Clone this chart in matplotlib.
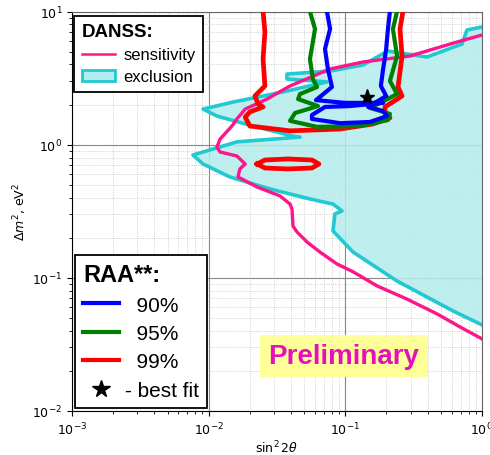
import matplotlib
matplotlib.use("Agg")
import matplotlib.pyplot as plt
from matplotlib.lines import Line2D
from matplotlib.patches import Patch

# DANSS exclusion boundary (sin^2 2theta, dm^2 in eV^2)
excl_x = [1.0, 0.776, 0.714, 0.395, 0.205, 0.135, 0.0773, 0.0374, 0.0374, 0.0734,
          0.0350, 0.0151, 0.00909, 0.0115, 0.0211, 0.0414, 0.0466, 0.0161, 0.00767,
          0.00909, 0.0143, 0.0281, 0.0551, 0.0812, 0.0946, 0.0839, 0.0812, 0.114,
          0.239, 0.614, 1.0]
excl_y = [7.65, 7.26, 5.70, 4.55, 5.05, 3.97, 3.57, 3.39, 3.11, 2.96,
          2.49, 2.09, 1.85, 1.64, 1.38, 1.16, 1.14, 1.05, 0.836,
          0.716, 0.572, 0.465, 0.391, 0.358, 0.318, 0.302, 0.225, 0.156,
          0.0946, 0.0564, 0.0443]

# DANSS sensitivity
sens_x = [1.0, 0.656, 0.297, 0.135, 0.0773, 0.0394, 0.0267, 0.0185, 0.0161, 0.0148,
          0.0121, 0.0115, 0.0121, 0.0161, 0.0185, 0.0169, 0.0164, 0.0226, 0.0333,
          0.0394, 0.0407, 0.0414, 0.0443, 0.0524, 0.0653, 0.0869, 0.114, 0.171,
          0.282, 0.469, 0.690, 1.0]
sens_y = [6.66, 5.90, 4.63, 4.18, 3.70, 2.76, 2.20, 1.85, 1.56, 1.38,
          1.10, 0.960, 0.881, 0.822, 0.716, 0.657, 0.572, 0.481, 0.412,
          0.358, 0.329, 0.245, 0.221, 0.186, 0.156, 0.127, 0.111, 0.0869,
          0.0693, 0.0536, 0.0428, 0.0348]

# RAA allowed regions
raa90_x = [0.0734, 0.0773, 0.0710, 0.0746, 0.0798, 0.0610, 0.0996, 0.189, 0.108, 0.0710,
           0.0570, 0.0570, 0.0914, 0.151, 0.202, 0.189, 0.147, 0.199, 0.182, 0.189,
           0.199, 0.205, 0.212]
raa90_y = [10, 7.39, 5.23, 3.70, 2.71, 2.16, 2.06, 2.06, 1.95, 1.92,
           1.67, 1.56, 1.45, 1.48, 1.64, 1.79, 1.92, 2.32, 2.76, 3.70,
           5.23, 7.39, 10]

raa95_x = [0.0551, 0.0600, 0.0551, 0.0579, 0.0621, 0.0466, 0.0451, 0.0631, 0.0429, 0.0394,
           0.0621, 0.128, 0.205, 0.212, 0.151, 0.180, 0.239, 0.212, 0.239, 0.223, 0.239]
raa95_y = [10, 7.39, 4.40, 3.11, 2.71, 2.40, 2.20, 1.95, 1.73, 1.51,
           1.36, 1.38, 1.53, 1.70, 1.89, 2.06, 2.40, 3.01, 4.63, 7.39, 10]

raa99_x = [0.0250, 0.0258, 0.0250, 0.0258, 0.0218, 0.0230, 0.0250, 0.0200, 0.0185, 0.0200,
           0.0394, 0.0914, 0.159, 0.212, 0.195, 0.195, 0.260, 0.243, 0.260, 0.251, 0.264]
raa99_y = [10, 7.02, 4.40, 2.76, 2.32, 2.02, 1.92, 1.76, 1.61, 1.38,
           1.27, 1.31, 1.43, 1.59, 1.76, 1.92, 2.32, 2.71, 4.63, 7.39, 10]

island_x = [0.0226, 0.0258, 0.0380, 0.0570, 0.0641, 0.0570, 0.0380, 0.0258, 0.0226]
island_y = [0.716, 0.767, 0.781, 0.767, 0.716, 0.668, 0.657, 0.668, 0.716]

best_fit = (0.144, 2.28)

cyan = "#22c9d0"
fill_c = "#b3ecec"
pink = "#ff148c"

fig = plt.figure(figsize=(4.9, 4.56), dpi=100)
ax = fig.add_axes([72 / 490, 44 / 456, 410 / 490, 399.5 / 456])
ax.set_xscale("log")
ax.set_yscale("log")
ax.set_xlim(1e-3, 1)
ax.set_ylim(1e-2, 10)

ax.grid(True, which="major", color="#888888", lw=0.8)
ax.grid(True, which="minor", color="#c0c0c0", lw=0.6, ls=":")
ax.set_axisbelow(True)

ax.fill(excl_x, excl_y, color=fill_c, alpha=0.85, lw=0, zorder=1)
ax.plot(excl_x, excl_y, color=cyan, lw=2.6, zorder=2)
ax.plot(sens_x, sens_y, color=pink, lw=2.4, zorder=3)

ax.plot(raa99_x, raa99_y, color="red", lw=3.4, zorder=4)
ax.plot(island_x, island_y, color="red", lw=3.4, zorder=4)
ax.plot(raa95_x, raa95_y, color="green", lw=3.0, zorder=5)
ax.plot(raa90_x, raa90_y, color="blue", lw=3.0, zorder=6)
ax.plot(*best_fit, marker="*", color="black", ms=11, ls="none", zorder=7)

for s in ["top", "right"]:
    ax.spines[s].set_color("#666666")
ax.tick_params(labelsize=9)
ax.set_xlabel(r"$\sin^2 2\theta$", fontsize=9, labelpad=1)
ax.set_ylabel(r"$\Delta m^2$, eV$^2$", fontsize=9, labelpad=2)

font = "Liberation Sans"

h1 = [Line2D([], [], color=pink, lw=1.8),
      Patch(facecolor=fill_c, edgecolor=cyan, lw=2)]
leg1 = ax.legend(h1, ["sensitivity", "exclusion"], loc="upper left",
                 bbox_to_anchor=(0.005, 0.989), borderaxespad=0, title="DANSS:",
                 alignment="left", fancybox=False, edgecolor="black", framealpha=1,
                 handlelength=2.0, handletextpad=0.5, labelspacing=0.42,
                 borderpad=0.45, prop={"family": font, "size": 12},
                 title_fontproperties={"family": font, "size": 13.5, "weight": "bold"})
leg1.get_frame().set_linewidth(1.3)
ax.add_artist(leg1)

h2 = [Line2D([], [], color="blue", lw=3),
      Line2D([], [], color="green", lw=3),
      Line2D([], [], color="red", lw=3),
      Line2D([], [], color="black", marker="*", ms=13, ls="none")]
leg2 = ax.legend(h2, ["  90%", "  95%", "  99%", "- best fit"], loc="lower left",
                 bbox_to_anchor=(0.007, 0.007), borderaxespad=0, title="RAA**:",
                 alignment="left", fancybox=False, edgecolor="black", framealpha=1,
                 handlelength=1.7, handletextpad=0.3, labelspacing=0.45,
                 borderpad=0.4, prop={"family": font, "size": 15},
                 title_fontproperties={"family": font, "size": 17, "weight": "bold"})
leg2.get_frame().set_linewidth(1.3)

ax.text(0.663, 0.138, "Preliminary", transform=ax.transAxes, ha="center", va="center",
        color="#e60fbe", fontsize=20, fontweight="bold", family=font, zorder=10,
        bbox=dict(facecolor="#ffff9a", edgecolor="none", pad=6))

fig.savefig("out.png", dpi=100)
